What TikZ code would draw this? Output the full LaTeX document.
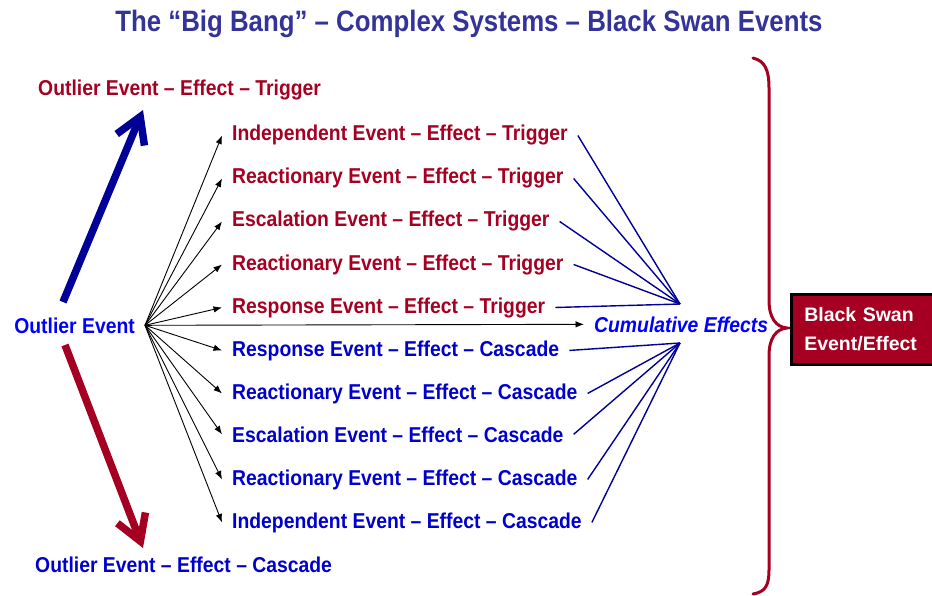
\documentclass[tikz,border=0pt]{standalone}
\usepackage{fontspec}
\setmainfont{Liberation Sans}
\newfontfamily\nf{Liberation Sans}[FakeStretch=0.9]
\newfontfamily\tf{Liberation Sans}[FakeStretch=0.875]
\usetikzlibrary{arrows.meta}
\definecolor{dred}{HTML}{A50021}
\definecolor{ttl}{HTML}{333399}
\definecolor{tblue}{HTML}{0000CC}
\definecolor{bblue}{HTML}{0000FF}
\definecolor{navy}{HTML}{000099}
\begin{document}
\begin{tikzpicture}[x=1pt,y=-1pt,
 lbl/.style={font=\nf\bfseries\fontsize{21.5}{24}\selectfont, inner xsep=10pt, inner ysep=2pt, anchor=base west},
 redlbl/.style={lbl, text=dred},
 bluelbl/.style={lbl, text=tblue},
 thinarrow/.style={-{Latex[length=8.5pt,width=6.5pt]}, line width=0.9pt},
 conv/.style={navy, line width=1.4pt},
 bigarrow/.style={line width=7.5pt, -{Straight Barb[length=25pt,width=30pt]}},
]
\useasboundingbox (0,0) rectangle (932,596);
% title
\node[font=\tf\bfseries\fontsize{29.5}{32}\selectfont, text=ttl, anchor=base, inner sep=0pt] (title) at (469,32) {The “Big Bang” – Complex Systems – Black Swan Events};
% outer labels
\node[redlbl, inner xsep=0pt] (otop) at (38,96) {Outlier Event – Effect – Trigger};
\node[bluelbl, inner xsep=0pt] (obot) at (35,572) {Outlier Event – Effect – Cascade};
\node[lbl, text=bblue, anchor=base east] (out) at (145,333) {Outlier Event};
% list
\node[redlbl] (r1) at (222,141) {Independent Event – Effect – Trigger};
\node[redlbl] (r2) at (222,184) {Reactionary Event – Effect – Trigger};
\node[redlbl] (r3) at (222,227) {Escalation Event – Effect – Trigger};
\node[redlbl] (r4) at (222,270) {Reactionary Event – Effect – Trigger};
\node[redlbl] (r5) at (222,313) {Response Event – Effect – Trigger};
\node[bluelbl] (b1) at (222,356) {Response Event – Effect – Cascade};
\node[bluelbl] (b2) at (222,399) {Reactionary Event – Effect – Cascade};
\node[bluelbl] (b3) at (222,442) {Escalation Event – Effect – Cascade};
\node[bluelbl] (b4) at (222,485) {Reactionary Event – Effect – Cascade};
\node[bluelbl] (b5) at (222,528) {Independent Event – Effect – Cascade};
\node[lbl, text=bblue, font=\nf\bfseries\itshape\fontsize{21.5}{24}\selectfont] (cum) at (584,332) {Cumulative Effects};
% converging points
\coordinate (ctop) at (680,304);
\coordinate (cbot) at (680,343);
% fan of arrows
\foreach \n in {r1,r2,r3,r4,r5,b1,b2,b3,b4,b5} {
  \draw[thinarrow] (out.east) -- (\n.west);
}
\draw[thinarrow] (out.east) -- (cum.west);
\foreach \n in {r1,r2,r3,r4,r5} { \draw[conv] (\n.east) -- (ctop); }
\foreach \n in {b1,b2,b3,b4,b5} { \draw[conv] (\n.east) -- (cbot); }
% big arrows
\coordinate (us) at (63,302);
\coordinate (ue) at (143,110);
\coordinate (ds) at (65,345);
\coordinate (de) at (143,548);
\draw[bigarrow, navy] (us) -- (ue);
\draw[bigarrow, dred] (ds) -- (de);
% brace
\draw[dred, line width=3pt, line cap=round] (753,58) .. controls (765,61) and (769,70) .. (769,88) -- (769,300) .. controls (769,318) and (776,327) .. (787,328) .. controls (776,329) and (769,338) .. (769,356) -- (769,570) .. controls (769,586) and (765,592) .. (753,594);
% black swan box
\node[draw=black, line width=2.5pt, fill=dred, text=white, font=\bfseries\fontsize{19.5}{29}\selectfont, anchor=north west, text width=122pt, inner xsep=13pt, minimum height=70pt, align=left] (bsw) at (790,293) {Black Swan\\Event/Effect};
\end{tikzpicture}
\end{document}
